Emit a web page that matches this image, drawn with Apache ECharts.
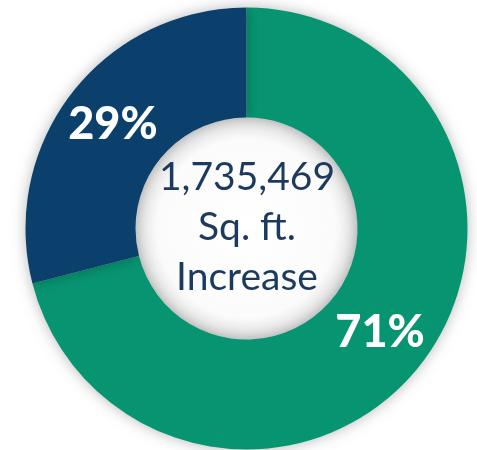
<!DOCTYPE html>
<html>
<head>
<meta charset="utf-8">
<script src="https://cdn.jsdelivr.net/npm/echarts@6/dist/echarts.min.js"></script>
<style>
  html, body { margin: 0; padding: 0; background: #fff; }
  #chart { width: 477px; height: 450px; }
</style>
</head>
<body>
<div id="chart"></div>
<script>
// 数据
var categories = ['Increase', 'Existing'];
var values = [71, 29];
var colors = ['#079571', '#0a406b'];
var centerLines = ['1,735,469', 'Sq. ft.', 'Increase'];

var chart = echarts.init(document.getElementById('chart'));

var pieData = categories.map(function (name, i) {
    return { name: name, value: values[i], itemStyle: { color: colors[i] } };
});

var option = {
    animation: false,
    graphic: [{
        // 中间的浅灰渐变圆
        type: 'circle',
        z: -1,
        shape: { cx: 246.5, cy: 228.5, r: 111 },
        style: {
            fill: {
                type: 'radial', x: 0.5, y: 0.5, r: 0.5,
                colorStops: [
                    { offset: 0, color: '#ffffff' },
                    { offset: 0.8, color: '#fbfbfb' },
                    { offset: 1, color: '#e2e2e2' }
                ]
            }
        }
    }, {
        type: 'text',
        z: 10,
        x: 247,
        y: 227,
        style: {
            text: centerLines.join('\n'),
            x: 0, y: 0,
            align: 'center',
            verticalAlign: 'middle',
            fill: '#1c3a5e',
            font: '39px Lato',
            lineHeight: 50
        }
    }],
    series: [{
        type: 'pie',
        center: [246.5, 228.5],
        radius: [111, 221],
        startAngle: 90,
        clockwise: true,
        silent: true,
        itemStyle: {
            shadowBlur: 14,
            shadowColor: 'rgba(0,0,0,0.28)'
        },
        label: {
            show: true,
            position: 'inside',
            formatter: '{c}%',
            color: '#fff',
            fontFamily: 'Lato',
            fontWeight: 900,
            fontSize: 45
        },
        labelLine: { show: false },
        data: pieData
    }]
};
chart.setOption(option);
</script>
</body>
</html>
